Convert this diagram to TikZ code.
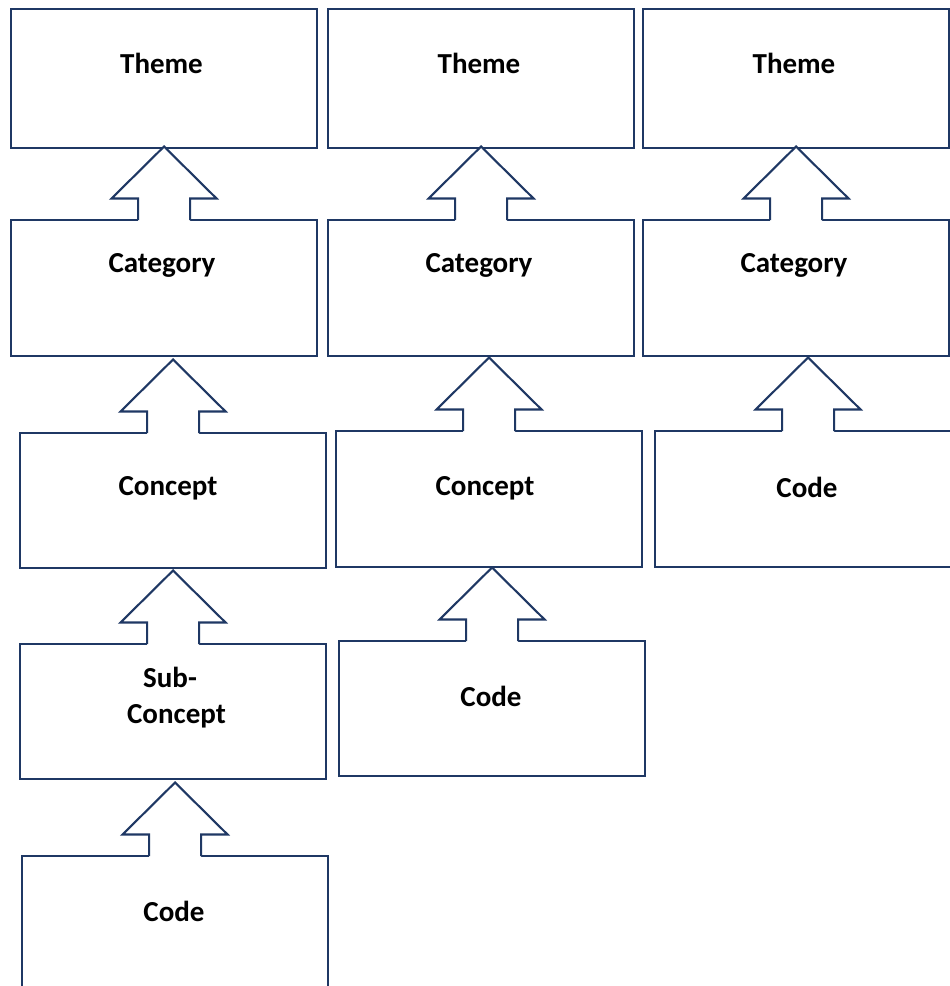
\documentclass[tikz,border=0pt]{standalone}
\usepackage{fontspec}
\setmainfont{Carlito}
\usetikzlibrary{calc}
\definecolor{navy}{RGB}{31,56,100}
\tikzset{
  box/.style={draw=navy, line width=2.1pt, rectangle, minimum width=306pt,
    inner sep=0pt, anchor=north west, fill=white},
  lbl/.style={font=\bfseries\fontsize{29}{35}\selectfont, anchor=base, inner sep=0pt},
  blockarrow/.style={draw=navy, line width=2.1pt, line join=miter},
}
\newcommand{\blkarrow}[1]{%
  \fill[white] ($(#1.north)+(-26,2)$) -- ($(#1.north)+(-26,-20.5)$)
    -- ($(#1.north)+(-52.5,-20.5)$) -- ($(#1.north)+(0,-72.5)$)
    -- ($(#1.north)+(52.5,-20.5)$) -- ($(#1.north)+(26,-20.5)$)
    -- ($(#1.north)+(26,2)$) -- cycle;
  \draw[blockarrow] ($(#1.north)+(-26,1)$) -- ($(#1.north)+(-26,-20.5)$)
    -- ($(#1.north)+(-52.5,-20.5)$) -- ($(#1.north)+(0,-72.5)$)
    -- ($(#1.north)+(52.5,-20.5)$) -- ($(#1.north)+(26,-20.5)$)
    -- ($(#1.north)+(26,1)$);}
\begin{document}
\begin{tikzpicture}[x=1pt,y=-1pt]
\useasboundingbox[fill=white] (0,0) rectangle (950,986);
% column 1
\node[box, minimum height=139pt] (t1) at (10,8) {};
\node[box, minimum height=136pt] (c1) at (10,219) {};
\node[box, minimum height=135pt] (n1) at (19,432) {};
\node[box, minimum height=135pt] (s1) at (19,643) {};
\node[box, minimum height=136pt] (d1) at (21,855) {};
% column 2
\node[box, minimum height=139pt] (t2) at (327,8) {};
\node[box, minimum height=135.5pt] (c2) at (327,219) {};
\node[box, minimum height=136pt] (n2) at (335,430) {};
\node[box, minimum height=135pt] (d2) at (338,640) {};
% column 3
\node[box, minimum height=139pt] (t3) at (642,8) {};
\node[box, minimum height=135.5pt] (c3) at (642,219) {};
\node[box, minimum height=136pt] (d3) at (654,430) {};
% arrows
\blkarrow{c1}
\blkarrow{n1}
\blkarrow{s1}
\blkarrow{d1}
\blkarrow{c2}
\blkarrow{n2}
\blkarrow{d2}
\blkarrow{c3}
\blkarrow{d3}
% labels
\node[lbl] (lt1) at (161.5,73) {Theme};
\node[lbl] (lt2) at (479,73) {Theme};
\node[lbl] (lt3) at (794,73) {Theme};
\node[lbl] (lc1) at (162,272) {Category};
\node[lbl] (lc2) at (479,272) {Category};
\node[lbl] (lc3) at (794,272) {Category};
\node[lbl] (ln1) at (168,495) {Concept};
\node[lbl] (ln2) at (485,495) {Concept};
\node[lbl] (ls1a) at (170,687) {Sub-};
\node[lbl] (ls1b) at (176.5,723) {Concept};
\node[lbl] (ld1) at (174,921) {Code};
\node[lbl] (ld2) at (491,706) {Code};
\node[lbl] (ld3) at (807,497) {Code};
\end{tikzpicture}
\end{document}
